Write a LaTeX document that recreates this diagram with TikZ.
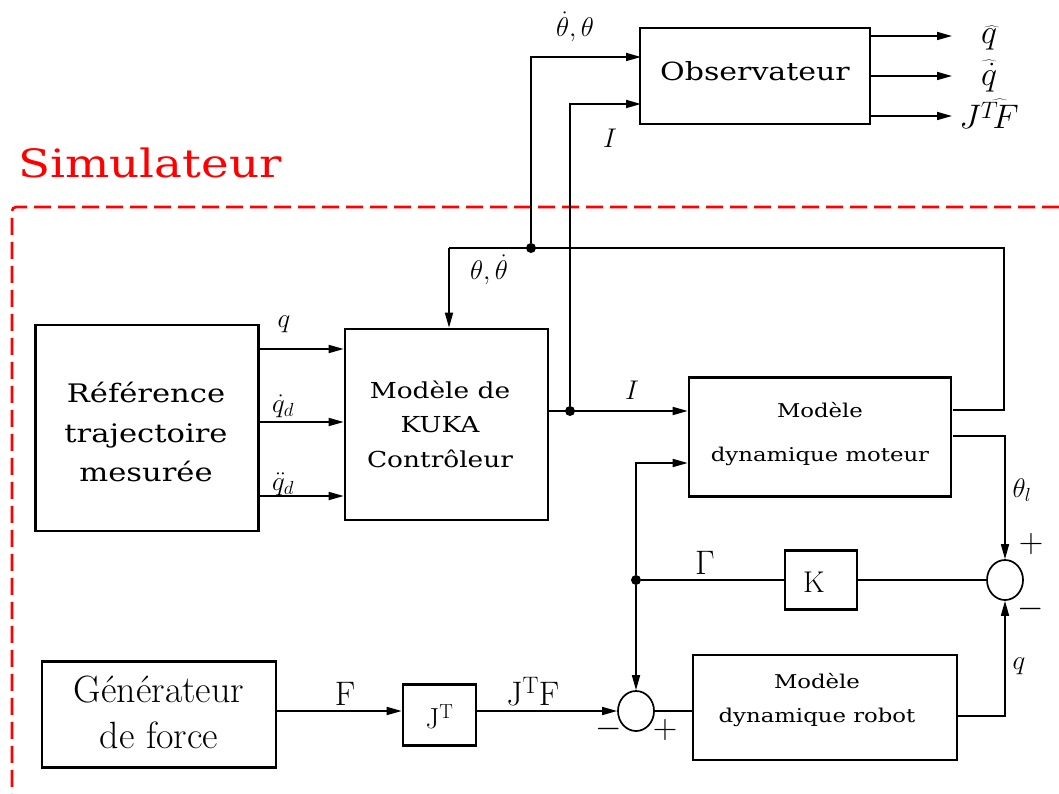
\RequirePackage{fix-cm}
\documentclass[tikz,border=0pt]{standalone}
\usepackage{fontspec}
\usetikzlibrary{arrows.meta,shapes.geometric}
\newfontfamily\ser[FakeStretch=1.2]{DejaVu Serif}
\newcommand\smlab{\fontsize{27}{32}\selectfont}
\newcommand\bglab{\fontsize{34}{40}\selectfont}
\newcommand\pmlab{\fontsize{34}{38}\selectfont}
\tikzset{
  box/.style={draw, line width=2.6pt, inner sep=0pt},
  txt/.style={inner sep=0pt, align=center},
  con/.style={line width=1.7pt},
  arr/.style={con, -{Triangle[length=15pt,width=8pt]}},
  jdot/.style={circle, fill, inner sep=0pt, minimum size=10pt},
  sumj/.style={ellipse, draw, line width=1.7pt, minimum width=36pt, minimum height=40pt, inner sep=0pt},
  lab/.style={inner sep=0pt, font=\smlab},
  biglab/.style={inner sep=0pt, font=\bglab},
  pmlabel/.style={inner sep=0pt, font=\pmlab},
}
\begin{document}
\begin{tikzpicture}[x=1pt,y=-1pt]
\useasboundingbox (0,0) rectangle (1059,794);

% simulator frame
\node[anchor=base west, text=red, inner sep=0pt, font=\ser\fontsize{39}{45}\selectfont] (sim) at (18,178) {Simulateur};
\draw[red, line width=2.6pt, dash pattern=on 17pt off 7pt, rounded corners=4pt] (1059,207) -| (12,794);

% blocks
\node[box, minimum width=230pt, minimum height=96pt] (obs) at (755,76) {};
\node[txt, font=\ser\fontsize{25}{30}\selectfont] (obst) at (755,71) {Observateur};

\node[box, minimum width=223pt, minimum height=206pt] (ref) at (147,428) {};
\node[txt, font=\ser\fontsize{25.5}{39.5}\selectfont] (reft) at (146,432) {Référence\\trajectoire\\mesurée};

\node[box, minimum width=203pt, minimum height=191pt] (kuka) at (446.5,424.5) {};
\node[txt, font=\ser\fontsize{22}{34.5}\selectfont] (kukat) at (440,424) {Modèle de\\KUKA\\Contrôleur};

\node[box, minimum width=262pt, minimum height=119pt] (motor) at (820,437) {};
\node[txt, font=\ser\fontsize{19}{44}\selectfont] (motort) at (820,434) {Modèle\\dynamique moteur};

\node[box, minimum width=72pt, minimum height=59pt] (K) at (821,580) {};
\node[txt, font=\fontsize{30}{34}\selectfont] (Kt) at (814,582) {K};

\node[box, minimum width=234pt, minimum height=106pt] (gen) at (159,714.5) {};
\node[txt, font=\fontsize{38}{46}\selectfont] (gent) at (159,712) {Générateur\\de force};

\node[box, minimum width=73pt, minimum height=61pt] (JT) at (439.5,715) {};
\node[txt, font=\fontsize{29}{32}\selectfont] (JTt) at (439.5,717) {J$^{\mathrm{T}}$};

\node[box, minimum width=264pt, minimum height=105pt] (robot) at (825,707.5) {};
\node[txt, font=\ser\fontsize{19}{34}\selectfont] (robott) at (817,700) {Modèle\\dynamique robot};

\node[sumj] (sum1) at (1005,580) {};
\node[sumj] (sum2) at (636,711) {};

% junction dots
\node[jdot] (d1) at (531,248) {};
\node[jdot] (d2) at (570,411) {};
\node[jdot] (d3) at (636,580) {};

% coordinates
\coordinate (fbL) at (449,248);
\coordinate (fbR) at (1004,248);
\coordinate (m1) at (953,410);
\coordinate (m2) at (953,436);
\coordinate (oin1) at (641,57);
\coordinate (oin2) at (641,104);
\coordinate (o1) at (952,36);
\coordinate (o2) at (952,76);
\coordinate (o3) at (952,116);

% feedback loop
\draw[con] (m1) -| (fbR) -- (fbL);
\draw[arr] (fbL) -- (fbL |- kuka.north);
\draw[arr] (d1) |- (oin1);
\draw[arr] (d2) |- (oin2);
\draw[arr] (kuka.east |- d2) -- (motor.west |- d2);

% observer outputs
\draw[arr] (obs.east |- o1) -- (o1);
\draw[arr] (obs.east |- o2) -- (o2);
\draw[arr] (obs.east |- o3) -- (o3);

% reference -> kuka
\draw[arr] (ref.east |- 0,349) -- (kuka.west |- 0,349);
\draw[arr] (ref.east |- 0,422) -- (kuka.west |- 0,422);
\draw[arr] (ref.east |- 0,496) -- (kuka.west |- 0,496);

% motor / robot / sums
\draw[arr] (m2) -| (sum1.north);
\draw[arr] (robot.east |- 0,716) -| (sum1.south);
\draw[con] (sum1.west) -- (K.east);
\draw[con] (K.west) -- (d3);
\draw[arr] (d3) |- (motor.west |- 0,463);
\draw[arr] (d3) -- (sum2.north);
\draw[arr] (gen.east |- sum2) -- (JT.west |- sum2);
\draw[arr] (JT.east |- sum2) -- (sum2.west);
\draw[con] (sum2.east) -- (robot.west |- sum2);

% labels
\node[lab] (l1) at (575,27) {$\dot\theta,\theta$};
\node[lab] (l2) at (610,138) {$I$};
\node[biglab] (l3) at (989,38) {$\widehat{q}$};
\node[biglab] (l4) at (989,76) {$\widehat{\dot q}$};
\node[biglab] (l5) at (989,114) {$J\widehat{{}^{T}\!F}$};
\node[lab] (l6) at (489,270) {$\theta,\dot\theta$};
\node[lab] (l7) at (632,390) {$I$};
\node[lab] (l8) at (284,324) {$q$};
\node[lab] (l9) at (283,406) {$\dot q_d$};
\node[lab] (l10) at (283,484) {$\ddot q_d$};
\node[lab] (l11) at (1022,490) {$\theta_l$};
\node[pmlabel] (l12) at (1031,544) {$+$};
\node[pmlabel] (l13) at (1031,609) {$-$};
\node[biglab] (l14) at (705,563) {$\Gamma$};
\node[lab] (l15) at (1019,666) {$q$};
\node[biglab] (l16) at (345,694) {F};
\node[biglab] (l17) at (533,692) {J$^{\mathrm{T}}$F};
\node[pmlabel] (l18) at (609,729) {$-$};
\node[pmlabel] (l19) at (665,730) {$+$};
\end{tikzpicture}
\end{document}
